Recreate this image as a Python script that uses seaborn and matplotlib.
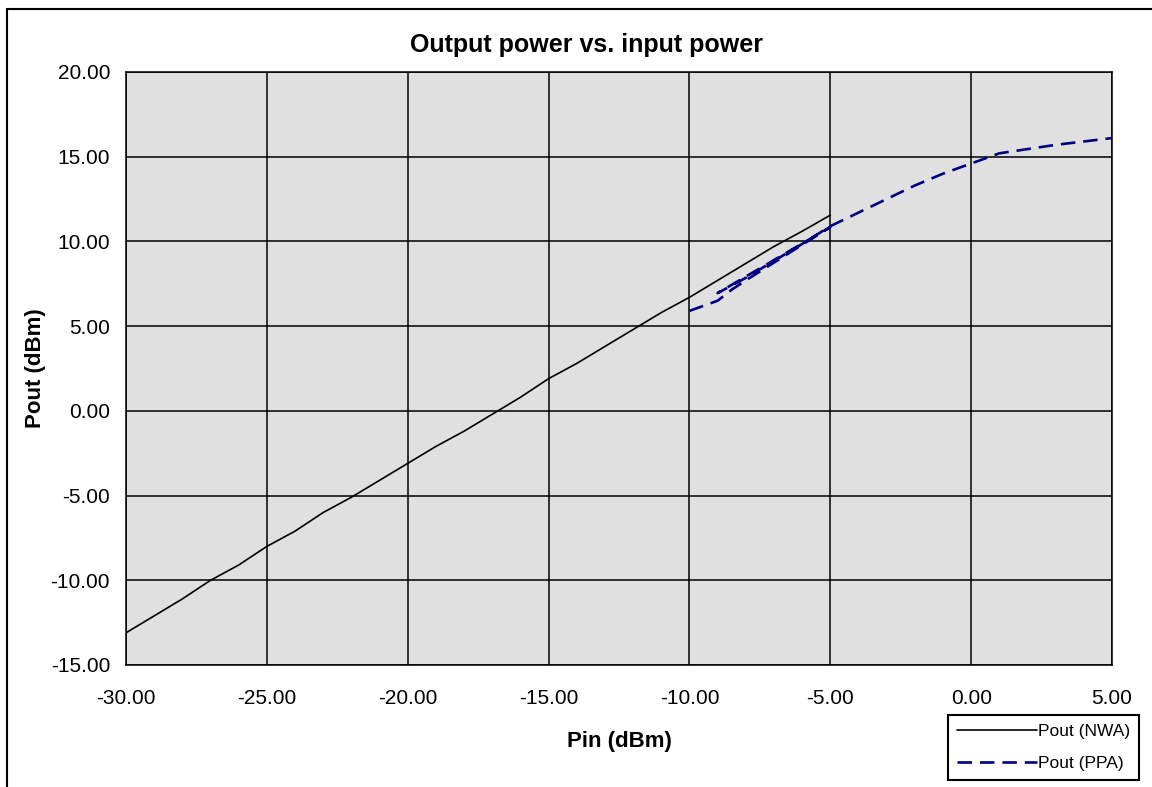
import matplotlib
matplotlib.use("Agg")
import matplotlib.pyplot as plt
from matplotlib.patches import Rectangle
import seaborn as sns
import pandas as pd

# ---- data ----
nwa_pin = [-30, -29, -28, -27, -26, -25, -24, -23, -22, -21, -20, -19, -18,
           -17, -16, -15, -14, -13, -12, -11, -10, -9, -8, -7, -6, -5]
nwa_pout = [-13.1, -12.1, -11.1, -10.0, -9.1, -8.0, -7.1, -6.0, -5.1, -4.1,
            -3.1, -2.1, -1.2, -0.2, 0.8, 1.9, 2.8, 3.8, 4.8, 5.8,
            6.7, 7.7, 8.7, 9.7, 10.6, 11.55]

ppa_pin = [-10, -9.5, -9, -8.5, -8, -7, -6, -5,
           -9, -8, -7, -6, -5, -4, -3, -2, -1, 0, 1, 2, 3, 4, 5]
ppa_pout = [5.9, 6.2, 6.5, 7.15, 7.7, 8.75, 9.8, 10.85,
            6.95, 7.85, 8.85, 9.85, 10.9, 11.7, 12.5, 13.3, 14.0, 14.6, 15.2,
            15.45, 15.7, 15.9, 16.1]

x_ticks = [-30, -25, -20, -15, -10, -5, 0, 5]
y_ticks = [-15, -10, -5, 0, 5, 10, 15, 20]

title = "Output power vs. input power"
x_label = "Pin (dBm)"
y_label = "Pout (dBm)"
series_names = ["Pout (NWA)", "Pout (PPA)"]

# ---- style ----
sns.set_theme(style="white")
plt.rcParams["font.family"] = ["Liberation Sans", "DejaVu Sans"]

W, H = 1152, 787
fig = plt.figure(figsize=(W / 100, H / 100), dpi=100)
ax = fig.add_axes([126 / W, 1 - 665 / H, (1112 - 126) / W, (665 - 72) / H])
ax.set_facecolor("#E0E0E0")

nwa = pd.DataFrame({"Pin": nwa_pin, "Pout": nwa_pout})
ppa = pd.DataFrame({"Pin": ppa_pin, "Pout": ppa_pout})

sns.lineplot(data=nwa, x="Pin", y="Pout", ax=ax, sort=False, estimator=None,
             color="black", linewidth=1.2, label=series_names[0], legend=False)
sns.lineplot(data=ppa, x="Pin", y="Pout", ax=ax, sort=False, estimator=None,
             color="#000080", linewidth=1.9, label=series_names[1], legend=False,
             dashes=False)
ppa_line = ax.get_lines()[-1]
ppa_line.set_dashes((5.5, 3))

ax.set_xlim(-30, 5)
ax.set_ylim(-15, 20)
ax.set_xticks(x_ticks)
ax.set_yticks(y_ticks)
ax.set_xticklabels([f"{v:.2f}" for v in x_ticks])
ax.set_yticklabels([f"{v:.2f}" for v in y_ticks])
ax.grid(True, color="black", linewidth=1.1)
ax.set_axisbelow(True)
for s in ax.spines.values():
    s.set_color("black")
    s.set_linewidth(1.1)
    s.set_visible(True)
ax.tick_params(axis="both", direction="out", length=4.5, width=1.1,
               colors="black", labelsize=15)
ax.tick_params(axis="x", pad=13)
ax.tick_params(axis="y", pad=7)

ax.set_xlabel(x_label, fontsize=16, fontweight="bold", color="black")
ax.set_ylabel(y_label, fontsize=16, fontweight="bold", color="black")
ax.xaxis.set_label_coords(0.5, (665 - 741) / 593)
ax.xaxis.label.set_va("center")
ax.yaxis.set_label_coords((35 - 126) / 986, 0.5)
ax.yaxis.label.set_va("center")

fig.text(586.5 / W, 1 - 52 / H, title, ha="center", va="baseline",
         fontsize=18, fontweight="bold", color="black")

# outer chart border
fig.patches.append(Rectangle((7 / W, -0.1), 1.2, 1 - 9 / H + 0.1,
                             transform=fig.transFigure, fill=False,
                             edgecolor="black", linewidth=1.5))

leg = fig.legend(handles=ax.get_lines(), labels=series_names,
                 loc="upper left", bbox_to_anchor=(948 / W, 1 - 715 / H),
                 fontsize=12.5, frameon=True, fancybox=False, framealpha=1,
                 edgecolor="black", borderaxespad=0, borderpad=0.5,
                 handlelength=4.6, handletextpad=0.1, labelspacing=1.0)
leg.get_frame().set_linewidth(1.5)
for t in leg.get_texts():
    t.set_color("black")

fig.savefig("out.png", dpi=100)
